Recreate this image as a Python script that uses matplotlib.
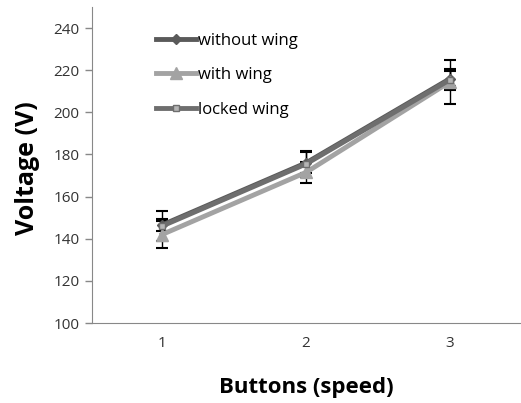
import matplotlib.pyplot as plt
from matplotlib.lines import Line2D

buttons = [1, 2, 3]
series_names = ["without wing", "with wing", "locked wing"]
without_wing = [146.5, 176, 216]
without_wing_err = [3, 5, 3.5]
with_wing = [142, 171.5, 214.5]
with_wing_err = [6.5, 5, 10.5]
locked_wing = [146, 175.5, 215.5]
locked_wing_err = [7, 6, 5]
y_ticks = [100, 120, 140, 160, 180, 200, 220, 240]

plt.rcParams["font.family"] = ["Open Sans", "DejaVu Sans"]

fig = plt.figure(figsize=(5.21, 4.03), dpi=100)
ax = fig.add_axes([0.1766, 0.1985, 0.8234, 0.784])

styles = [
    (without_wing, without_wing_err, "#5a5a5a", "D", "#5a5a5a", 5),
    (with_wing, with_wing_err, "#a3a3a3", "^", "#a3a3a3", 8),
    (locked_wing, locked_wing_err, "#6e6e6e", "s", "#b5b5b5", 5),
]
handles = []
for name, (vals, errs, color, marker, mfc, ms) in zip(series_names, styles):
    ax.errorbar(buttons, vals, yerr=errs, color=color, linewidth=3.5,
                marker=marker, markersize=ms, markerfacecolor=mfc,
                markeredgecolor=color, ecolor="black", elinewidth=1,
                capsize=4, capthick=1.5, zorder=3)
    handles.append(Line2D([], [], color=color, linewidth=3.5, marker=marker,
                          markersize=ms, markerfacecolor=mfc,
                          markeredgecolor=color, label=name))

ax.set_xlim(0.514, 3.493)
ax.set_ylim(100, 250)
ax.set_xticks(buttons)
ax.set_yticks(y_ticks)
ax.tick_params(axis="x", length=0, pad=9, labelsize=11, colors="#333333")
ax.tick_params(axis="y", direction="out", length=5, width=1, pad=4,
               labelsize=11, colors="#888888", labelcolor="#333333")

for side in ["top", "right"]:
    ax.spines[side].set_visible(False)
for side in ["left", "bottom"]:
    ax.spines[side].set_color("#888888")

ax.set_xlabel("Buttons (speed)", fontsize=16, fontweight="bold")
ax.xaxis.set_label_coords(0.499, -0.172)
ax.set_ylabel("Voltage (V)", fontsize=18, fontweight="bold")
ax.yaxis.set_label_coords(-0.121, 0.49)

fig.legend(handles=handles, loc="upper left",
           bbox_to_anchor=(156 / 521, 1 - 33 / 403),
           bbox_transform=fig.transFigure, frameon=False, fontsize=12,
           handlelength=2.4, handletextpad=0.15, labelspacing=1.1,
           borderpad=0, borderaxespad=0)

fig.savefig("out.png", dpi=100)
